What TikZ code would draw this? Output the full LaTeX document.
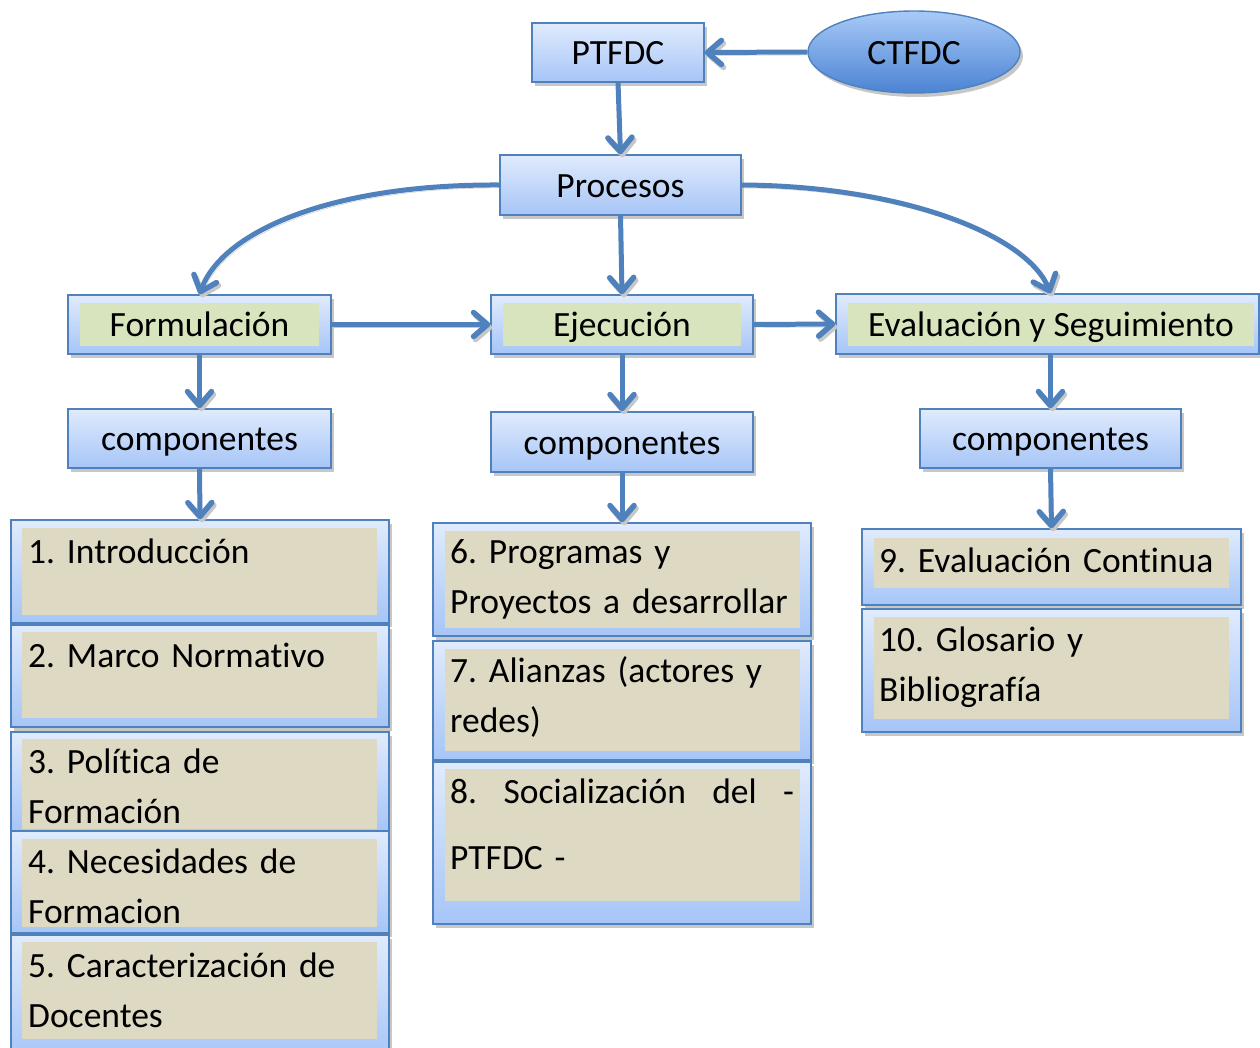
\documentclass[tikz,border=0pt]{standalone}
\usepackage{fontspec}
\setmainfont{Carlito}[Ligatures={NoCommon}]
\usetikzlibrary{shapes.geometric,shadows,arrows.meta,calc}
\definecolor{bord}{HTML}{4F81BD}
\definecolor{btop}{HTML}{E0EBFD}
\definecolor{bbot}{HTML}{A6C5F7}
\definecolor{gfill}{HTML}{D7E4BD}
\definecolor{bfill}{HTML}{DDD9C3}
\definecolor{etop}{HTML}{A8CAF7}
\definecolor{ebot}{HTML}{4C83D3}
\definecolor{cline}{HTML}{4F81BD}
\newcommand{\fsz}{\fontsize{35.5}{50.5}\selectfont\frenchspacing}
\tikzset{
  bbox/.style={draw=bord, line width=1.4pt, top color=btop, bottom color=bbot, inner sep=0pt,
    drop shadow={shadow xshift=3pt, shadow yshift=-4pt, fill=black, opacity=.22},
    font=\fsz, text height=25pt, text depth=1pt},
  gin/.style={fill=gfill, inner sep=0pt, font=\fsz, text height=25pt, text depth=1pt},
  bin/.style={fill=bfill, inner sep=0pt},
  ltxt/.style={anchor=base west, inner sep=0pt, font=\fsz, align=left, text width=352pt},
  conn/.style={draw=cline, line width=5pt,
    -{Straight Barb[length=14pt,width=24pt,line width=5.5pt,round]},
    preaction={draw=black!22, transform canvas={xshift=2pt,yshift=-3pt}}}
}
\begin{document}
\begin{tikzpicture}[x=1pt,y=-1pt]
\clip (0,0) rectangle (1260,1047);
\fill[white] (0,0) rectangle (1260,1047);
% top
\node[bbox, minimum width=172pt, minimum height=59pt] (ptfdc) at (618,52.5) {PTFDC};
\node[ellipse, draw=bord, line width=1.4pt, top color=etop, bottom color=ebot,
  drop shadow={shadow xshift=3pt, shadow yshift=-4pt, fill=black, opacity=.22},
  minimum width=212pt, minimum height=82pt, inner sep=0pt, font=\fsz, text height=25pt, text depth=1pt] (ctfdc) at (914,52) {CTFDC};
\node[bbox, minimum width=241pt, minimum height=60pt] (proc) at (620.5,185) {Procesos};
% level 2
\node[bbox, minimum width=263pt, minimum height=59pt] (formo) at (199.5,324.5) {};
\node[gin, minimum width=239pt, minimum height=43pt] (form) at (199.5,324.5) {Formulación};
\node[bbox, minimum width=262pt, minimum height=59pt] (ejeco) at (622,324.5) {};
\node[gin, minimum width=238pt, minimum height=43pt] (ejec) at (622,324.5) {Ejecución};
\node[bbox, minimum width=423pt, minimum height=60pt] (evalo) at (1047.5,324) {};
\node[gin, minimum width=406pt, minimum height=43pt] (eval) at (1051,324.5) {Evaluación y Seguimiento};
% componentes
\node[bbox, minimum width=263pt, minimum height=59pt] (compL) at (199.5,438.5) {componentes};
\node[bbox, minimum width=262pt, minimum height=60pt] (compM) at (622,442) {componentes};
\node[bbox, minimum width=261pt, minimum height=59pt] (compR) at (1050.5,438.5) {componentes};
% left list
\node[bbox, minimum width=378pt, minimum height=103pt] (b1) at (200,571.5) {};
\node[bin, minimum width=355pt, minimum height=87pt] (i1) at (199.5,571.5) {};
\node[ltxt] (t1) at (28,563) {1. Introducción};
\node[bbox, minimum width=378pt, minimum height=102pt] (b2) at (200,676) {};
\node[bin, minimum width=355pt, minimum height=86pt] (i2) at (199.5,675) {};
\node[ltxt] (t2) at (28,667) {2. Marco Normativo};
\node[bbox, minimum width=378pt, minimum height=99pt] (b3) at (200,781.5) {};
\node[bin, minimum width=355pt, minimum height=90pt] (i3) at (199.5,784) {};
\node[ltxt] (t3) at (28,773) {3. Política de\\Formación};
\node[bbox, minimum width=378pt, minimum height=102pt] (b4) at (200,882) {};
\node[bin, minimum width=355pt, minimum height=88pt] (i4) at (199.5,883) {};
\node[ltxt] (t4) at (28,873) {4. Necesidades de\\Formacion};
\node[bbox, minimum width=378pt, minimum height=125pt] (b5) at (200,997.5) {};
\node[bin, minimum width=355pt, minimum height=97pt] (i5) at (199.5,990.5) {};
\node[ltxt] (t5) at (28,977) {5. Caracterización de\\Docentes};
% middle list
\node[bbox, minimum width=378pt, minimum height=113pt] (b6) at (622,579.5) {};
\node[bin, minimum width=355pt, minimum height=97pt] (i6) at (622.5,579.5) {};
\node[ltxt] (t6) at (450,563) {6. Programas y\\Proyectos a desarrollar};
\node[bbox, minimum width=378pt, minimum height=119pt] (b7) at (622,700.5) {};
\node[bin, minimum width=355pt, minimum height=102pt] (i7) at (622.5,700) {};
\node[ltxt] (t7) at (450,682) {7. Alianzas (actores y\\redes)};
\node[bbox, minimum width=378pt, minimum height=162pt] (b8) at (622,843) {};
\node[bin, minimum width=355pt, minimum height=132pt] (i8) at (622.5,835) {};
\node[ltxt, text width=344pt] (t8) at (450,803) {8.\hfill Socialización\hfill del\hfill -\\[15.5pt]PTFDC -};
% right list
\node[bbox, minimum width=379pt, minimum height=76pt] (b9) at (1051.5,567) {};
\node[bin, minimum width=355pt, minimum height=50pt] (i9) at (1051.5,563) {};
\node[ltxt] (t9) at (879,572) {9. Evaluación Continua};
\node[bbox, minimum width=379pt, minimum height=123pt] (b10) at (1051.5,670.5) {};
\node[bin, minimum width=355pt, minimum height=102pt] (i10) at (1051.5,668) {};
\node[ltxt] (t10) at (879,651) {10. Glosario y\\Bibliografía};
% connectors
\draw[conn] (ctfdc.west) -- (ptfdc.east);
\draw[conn] (ptfdc.south) -- (proc.north);
\draw[conn] (proc.west) .. controls (330,184) and (222,232) .. (formo.north);
\draw[conn] (proc.east) .. controls (905,186) and (1028,236) .. (compR.north |- evalo.north);
\draw[conn] (proc.south) -- (ejeco.north);
\draw[conn] (formo.east) -- (ejeco.west);
\draw[conn] (ejeco.east) -- (evalo.west);
\draw[conn] (formo.south) -- (compL.north);
\draw[conn] (ejeco.south) -- (compM.north);
\draw[conn] (compR.north |- evalo.south) -- (compR.north);
\draw[conn] (compL.south) -- (b1.north);
\draw[conn] (compM.south) -- (b6.north);
\draw[conn] (compR.south) -- (b9.north);
\end{tikzpicture}
\end{document}
